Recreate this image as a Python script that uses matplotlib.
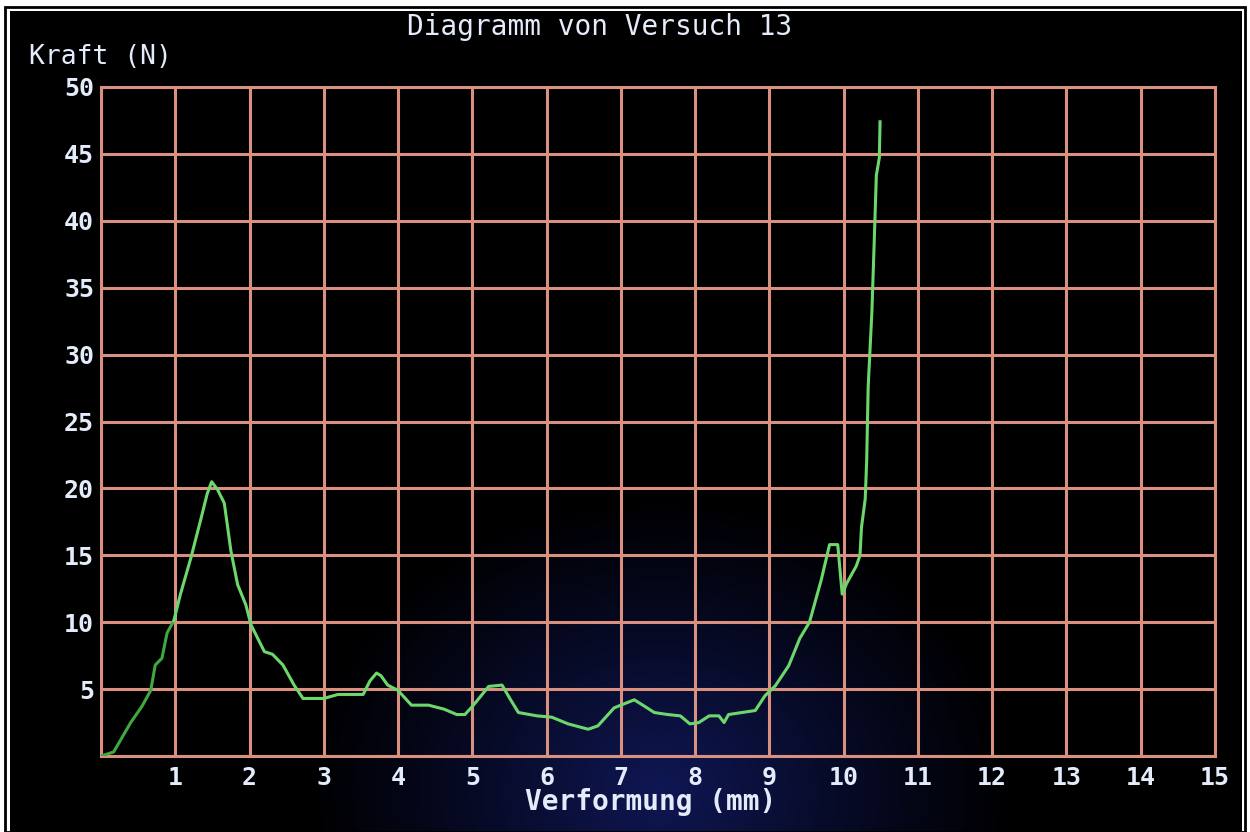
"""Kraft-Verformungs-Diagramm (Versuch 13) nachgebaut"""

import numpy as np
import matplotlib
matplotlib.use("Agg")
import matplotlib.pyplot as plt
from matplotlib.patches import Rectangle

verformung = [0.0, 0.17, 0.4, 0.55, 0.67, 0.73, 0.82, 0.89, 0.98, 1.07,
              1.21, 1.34, 1.43, 1.49, 1.57, 1.66, 1.75, 1.84, 1.95, 2.02,
              2.2, 2.31, 2.45, 2.6, 2.72, 3.0, 3.19, 3.53, 3.62, 3.71,
              3.77, 3.86, 4.0, 4.18, 4.41, 4.62, 4.79, 4.9, 5.0, 5.22,
              5.4, 5.51, 5.62, 5.87, 6.07, 6.29, 6.56, 6.69, 6.91, 7.18,
              7.31, 7.45, 7.63, 7.8, 7.93, 8.05, 8.19, 8.32, 8.39, 8.45,
              8.81, 8.94, 9.08, 9.26, 9.41, 9.54, 9.7, 9.81, 9.92, 9.98,
              10.04, 10.17, 10.22, 10.24, 10.29, 10.31, 10.33, 10.38, 10.41, 10.44,
              10.48, 10.49]
kraft = [0.0, 0.3, 2.5, 3.7, 4.9, 6.8, 7.3, 9.2, 10.1, 12.1,
         14.8, 17.6, 19.6, 20.5, 19.9, 18.9, 15.3, 12.8, 11.3, 9.8,
         7.8, 7.6, 6.8, 5.3, 4.3, 4.3, 4.6, 4.6, 5.6, 6.2,
         6.0, 5.3, 4.9, 3.8, 3.8, 3.5, 3.1, 3.1, 3.7, 5.2,
         5.3, 4.25, 3.25, 3.0, 2.9, 2.4, 2.0, 2.25, 3.6, 4.2,
         3.75, 3.25, 3.1, 3.0, 2.4, 2.5, 3.0, 3.0, 2.5, 3.1,
         3.4, 4.5, 5.25, 6.75, 8.8, 10.0, 13.2, 15.8, 15.8, 12.1,
         12.9, 14.2, 15.0, 17.1, 19.2, 22.1, 27.6, 33.2, 38.2, 43.4,
         44.7, 47.4]

x_ticks = list(range(0, 16))
y_ticks = list(range(0, 51, 5))
x_labels = [''] + [str(t) for t in x_ticks[1:]]
y_labels = [''] + [str(t) for t in y_ticks[1:]]

W, H = 1250, 832
fig = plt.figure(figsize=(W / 100, H / 100), dpi=100, facecolor='white')

# schwarzer Bildschirm mit Rahmen
fig.patches.append(Rectangle((5 / W, 0), 1240 / W, 1 - 7 / H, transform=fig.transFigure,
                             facecolor='none', edgecolor='black', lw=2))
bg = fig.add_axes([10 / W, 0, 1232 / W, 1 - 11 / H])
bg.set_axis_off()
# leichter blauer Schimmer unten in der Mitte (Foto vom Monitor)
gx, gy = np.meshgrid(np.linspace(0, 1232, 400), np.linspace(0, 821, 300))
d = np.sqrt(((gx - 650) / 360) ** 2 + ((gy - 40) / 300) ** 2)
glow = np.clip(1 - d, 0, 1) ** 1.1
img = np.zeros(gx.shape + (3,))
img[..., 0] = 0.06 * glow
img[..., 1] = 0.09 * glow
img[..., 2] = 0.33 * glow
bg.imshow(img, origin='lower', aspect='auto', extent=[0, 1232, 0, 821])

ax = fig.add_axes([101 / W, 1 - 756 / H, 1114 / W, 669 / H])
ax.set_facecolor('none')

farbe_gitter = '#d9907e'
farbe_text = '#e4ecfb'
schrift = 'DejaVu Sans Mono'

ax.set_xlim(0, 15)
ax.set_ylim(0, 50)
ax.set_xticks(x_ticks)
ax.set_xticklabels(x_labels)
ax.set_yticks(y_ticks)
ax.set_yticklabels(y_labels)
ax.grid(True, color=farbe_gitter, lw=2.2)
for s in ax.spines.values():
    s.set_color(farbe_gitter)
    s.set_linewidth(2.2)
ax.tick_params(length=0, colors=farbe_text)
ax.tick_params(axis='x', pad=7)
ax.tick_params(axis='y', pad=5)
for lab in ax.get_xticklabels() + ax.get_yticklabels():
    lab.set_fontfamily(schrift)
    lab.set_fontweight('bold')
    lab.set_fontsize(18)

# Anfang der Kurve etwas dunkler wie auf dem Bildschirm
ax.plot(verformung[:9], kraft[:9], color='#3fa83f', lw=2.2, zorder=3)
ax.plot(verformung[8:], kraft[8:], color='#6cd86c', lw=2.2, zorder=3)

fig.text(600 / W, 1 - 27 / H, 'Diagramm von Versuch 13', ha='center', va='center',
         color=farbe_text, fontsize=20, fontfamily=schrift)
fig.text(29 / W, 1 - 57 / H, 'Kraft (N)', ha='left', va='center',
         color=farbe_text, fontsize=19, fontfamily=schrift)
fig.text(651 / W, 1 - 802 / H, 'Verformung (mm)', ha='center', va='center',
         color=farbe_text, fontsize=20, fontfamily=schrift, fontweight='bold')

fig.savefig('out.png', dpi=100, facecolor='white')
